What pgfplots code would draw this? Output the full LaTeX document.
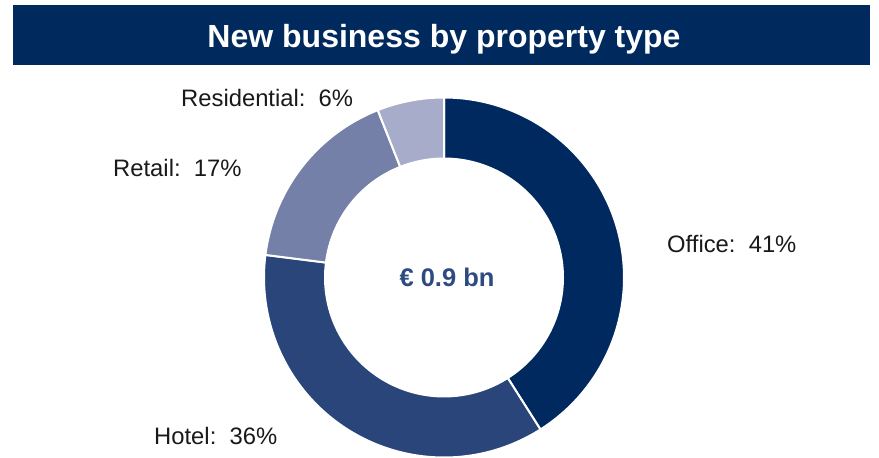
\documentclass[border=0pt]{standalone}
\usepackage{pgfplots}
\pgfplotsset{compat=1.18}
\usepackage{fontspec}
\setmainfont{Liberation Sans}
\definecolor{titlebar}{HTML}{00295E}
\definecolor{cOffice}{HTML}{00295F}
\definecolor{cHotel}{HTML}{2A4579}
\definecolor{cRetail}{HTML}{7480A8}
\definecolor{cResid}{HTML}{A8ACCB}
\definecolor{cCenter}{HTML}{2E4A80}
% shares in percent
\def\vOffice{41}
\def\vHotel{36}
\def\vRetail{17}
\def\vResid{6}
\begin{document}
\begin{tikzpicture}[x=1pt,y=1pt]
\useasboundingbox (0,0) rectangle (879,458);
\pgfmathsetmacro\aA{90}
\pgfmathsetmacro\aB{\aA-3.6*\vOffice}
\pgfmathsetmacro\aC{\aB-3.6*\vHotel}
\pgfmathsetmacro\aD{\aC-3.6*\vRetail}
\pgfmathsetmacro\aE{\aD-3.6*\vResid}
\def\cx{444}
\def\cy{180.5}
\def\R{180}
\def\r{120}
\begin{axis}[at={(0,0)},anchor=south west,scale only axis,
  width=879pt,height=458pt,xmin=0,xmax=879,ymin=0,ymax=458,
  hide axis,clip=false]
\addplot[fill=cOffice,draw=white,line width=2pt,domain=\aB:\aA,samples=120,variable=\t]
  ({\cx+\R*cos(\t)},{\cy+\R*sin(\t)}) -- (axis cs:\cx,\cy) -- cycle;
\addplot[fill=cHotel,draw=white,line width=2pt,domain=\aC:\aB,samples=120,variable=\t]
  ({\cx+\R*cos(\t)},{\cy+\R*sin(\t)}) -- (axis cs:\cx,\cy) -- cycle;
\addplot[fill=cRetail,draw=white,line width=2pt,domain=\aD:\aC,samples=80,variable=\t]
  ({\cx+\R*cos(\t)},{\cy+\R*sin(\t)}) -- (axis cs:\cx,\cy) -- cycle;
\addplot[fill=cResid,draw=white,line width=2pt,domain=\aE:\aD,samples=40,variable=\t]
  ({\cx+\R*cos(\t)},{\cy+\R*sin(\t)}) -- (axis cs:\cx,\cy) -- cycle;
\addplot[fill=white,draw=none,domain=0:360,samples=160,variable=\t]
  ({\cx+\r*cos(\t)},{\cy+\r*sin(\t)}) -- cycle;
\end{axis}
\fill[titlebar] (13,393) rectangle (870,453);
\node[anchor=base,inner sep=0,text=white,font=\fontsize{32}{38}\selectfont\bfseries] at (444,410) {New business by property type};
\node[anchor=base,inner sep=0,text=cCenter,font=\fontsize{25.5}{30}\selectfont\bfseries] at (447,171) {€ 0.9 bn};
\node[anchor=base west,inner sep=0,text=black!90,font=\fontsize{23.8}{28}\selectfont] at (667,205) {Office:\ \ 41\%};
\node[anchor=base west,inner sep=0,text=black!90,font=\fontsize{23.8}{28}\selectfont] at (154,13) {Hotel:\ \ 36\%};
\node[anchor=base west,inner sep=0,text=black!90,font=\fontsize{23.8}{28}\selectfont] at (113,281) {Retail:\ \ 17\%};
\node[anchor=base west,inner sep=0,text=black!90,font=\fontsize{23.8}{28}\selectfont] at (181,351) {Residential:\ \ 6\%};
\end{tikzpicture}
\end{document}
